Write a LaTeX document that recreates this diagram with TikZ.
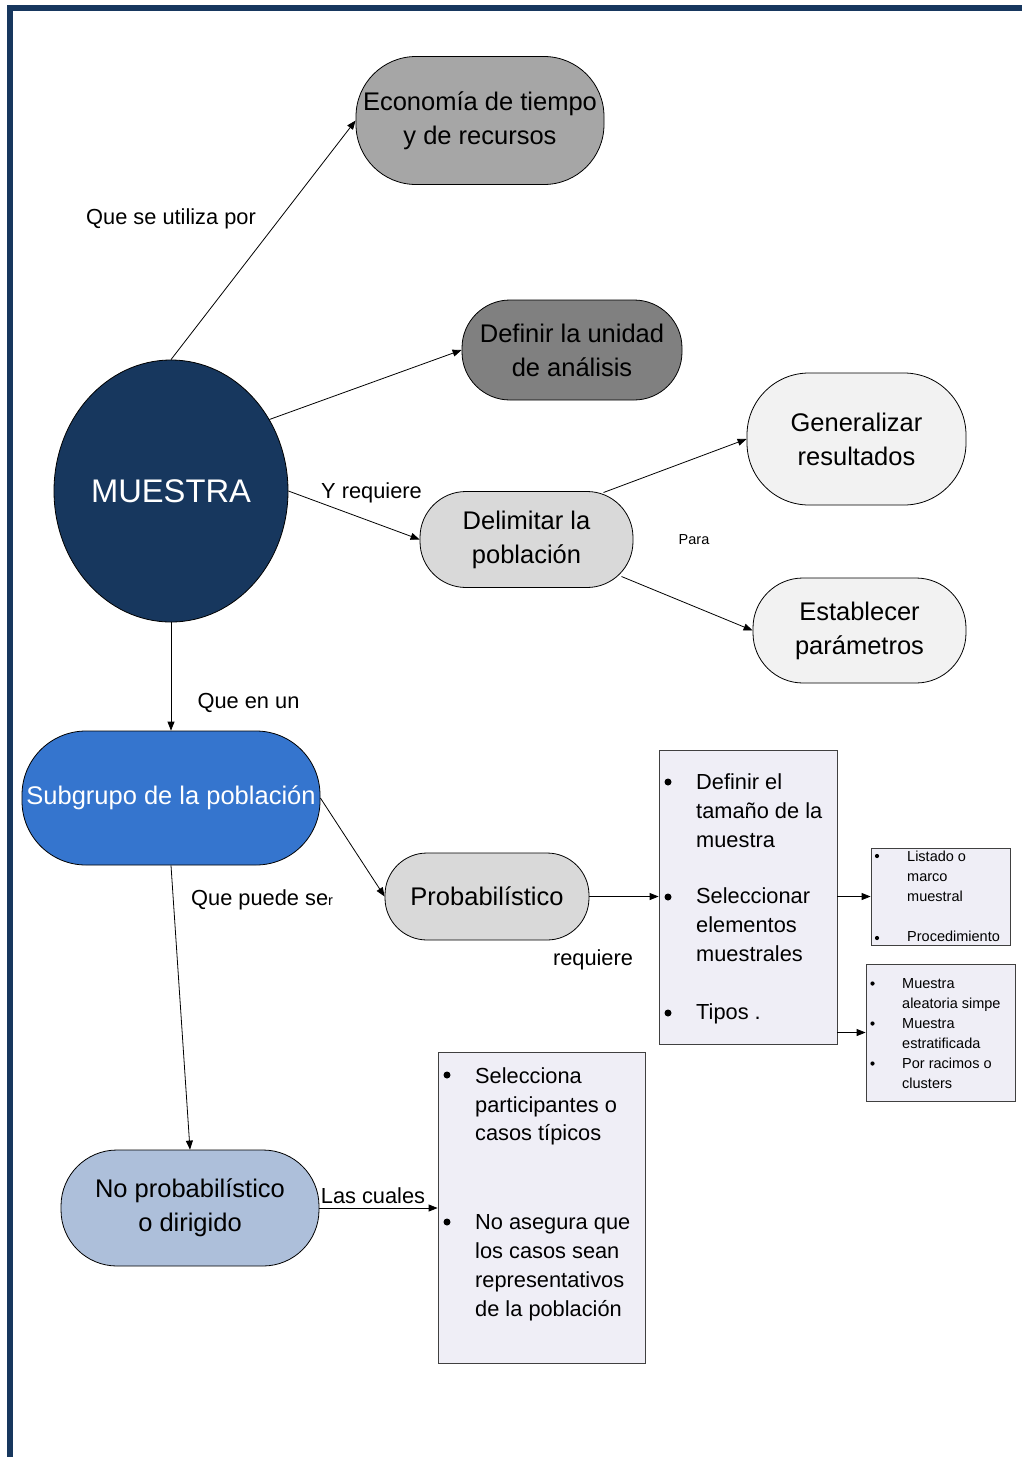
\documentclass[tikz,border=0pt]{standalone}
\usepackage{fontspec}
\setmainfont{Liberation Sans}
\usetikzlibrary{shapes.geometric,arrows.meta,calc}

\definecolor{navy}{HTML}{17375E}
\definecolor{grayA}{HTML}{A6A6A6}
\definecolor{grayB}{HTML}{808080}
\definecolor{grayC}{HTML}{D9D9D9}
\definecolor{grayD}{HTML}{F2F2F2}
\definecolor{blueS}{HTML}{3575CE}
\definecolor{blueL}{HTML}{ADBFDA}
\definecolor{boxfill}{HTML}{EFEEF6}
\definecolor{boxline}{HTML}{404040}

\tikzset{
  pill/.style={draw=black, line width=0.8pt, inner sep=0pt, align=center,
    font=\fontsize{25.5}{34}\selectfont},
  listbox/.style={draw=boxline, fill=boxfill, line width=0.8pt, inner sep=0pt},
  conn/.style={line width=0.8pt, -{Triangle[length=9pt,width=7pt]}},
  lbl/.style={font=\fontsize{21.8}{26}\selectfont, inner sep=0pt, anchor=mid},
  itm/.style={font=\fontsize{21.8}{26}\selectfont, inner sep=0pt, anchor=base west},
  bul/.style={circle, fill=black, inner sep=0pt, minimum size=7pt},
  smitm/.style={font=\fontsize{14.5}{18}\selectfont, inner sep=0pt, anchor=base west},
  smbul/.style={circle, fill=black, inner sep=0pt, minimum size=4.2pt},
}

\begin{document}
\begin{tikzpicture}[x=1pt,y=-1pt]
\useasboundingbox (0,0) rectangle (1022,1457);
\fill[white] (0,0) rectangle (1022,1457);

% page frame (top and left edges)
\draw[navy, line width=6pt, line join=miter] (9.5,1460) -- (9.5,8) -- (1025,8);

% concept nodes
\node[ellipse, draw=black, line width=0.8pt, fill=navy, text=white,
  minimum width=234pt, minimum height=262pt, inner sep=0pt,
  font=\fontsize{32.7}{38}\selectfont] (mue) at (171,491) {MUESTRA};

\node[pill, fill=grayA, minimum width=248pt, minimum height=128pt, rounded corners=60pt]
  (eco) at (480,120.5) {Economía de tiempo\\y de recursos};
\node[pill, fill=grayB, minimum width=220pt, minimum height=100pt, rounded corners=48pt]
  (def) at (572,350) {Definir la unidad\\de análisis};
\node[pill, fill=grayD, minimum width=219pt, minimum height=132pt, rounded corners=62pt]
  (gen) at (856.5,439) {Generalizar\\resultados};
\node[pill, fill=grayC, minimum width=213pt, minimum height=96pt, rounded corners=46pt]
  (del) at (526.5,539.5) {Delimitar la\\población};
\node[pill, fill=grayD, minimum width=213pt, minimum height=105pt, rounded corners=50pt]
  (est) at (859.5,630.5) {Establecer\\parámetros};
\node[pill, fill=blueS, text=white, minimum width=298pt, minimum height=134pt, rounded corners=64pt]
  (sub) at (171,798) {Subgrupo de la población};
\node[pill, fill=grayC, minimum width=204pt, minimum height=87pt, rounded corners=42pt]
  (pro) at (487,896.5) {Probabilístico};
\node[pill, fill=blueL, minimum width=258pt, minimum height=116pt, rounded corners=56pt]
  (nop) at (190,1208) {No probabilístico\\o dirigido};

% list boxes
\node[listbox, minimum width=178pt, minimum height=294pt] (b1) at (748,897) {};
\node[listbox, minimum width=139pt, minimum height=97pt] (b2) at (940.5,896.5) {};
\node[listbox, minimum width=149pt, minimum height=137pt] (b3) at (940.5,1032.5) {};
\node[listbox, minimum width=207pt, minimum height=311pt] (b4) at (541.5,1207.5) {};

% box 1 items
\node[bul] (b1p1) at (668,782) {};
\node[bul] (b1p2) at (668,897) {};
\node[bul] (b1p3) at (668,1013) {};
\node[itm] (b1t1) at (696,789) {Definir el};
\node[itm] (b1t2) at (696,818) {tamaño de la};
\node[itm] (b1t3) at (696,847) {muestra};
\node[itm] (b1t4) at (696,903) {Seleccionar};
\node[itm] (b1t5) at (696,932) {elementos};
\node[itm] (b1t6) at (696,961) {muestrales};
\node[itm] (b1t7) at (696,1019) {Tipos .};

% box 2 items
\node[smbul] (b2p1) at (877,856) {};
\node[smbul] (b2p2) at (877,938) {};
\node[smitm] (b2t1) at (907,861.5) {Listado o};
\node[smitm] (b2t2) at (907,881.5) {marco};
\node[smitm] (b2t3) at (907,901.5) {muestral};
\node[smitm] (b2t4) at (907,941.5) {Procedimiento};

% box 3 items
\node[smbul] (b3p1) at (872.5,983.5) {};
\node[smbul] (b3p2) at (872.5,1023.5) {};
\node[smbul] (b3p3) at (872.5,1063.5) {};
\node[smitm] (b3t1) at (902,988) {Muestra};
\node[smitm] (b3t2) at (902,1008) {aleatoria simpe};
\node[smitm] (b3t3) at (902,1028) {Muestra};
\node[smitm] (b3t4) at (902,1048) {estratificada};
\node[smitm] (b3t5) at (902,1068) {Por racimos o};
\node[smitm] (b3t6) at (902,1088) {clusters};

% box 4 items
\node[bul] (b4p1) at (447,1075) {};
\node[bul] (b4p2) at (447,1222) {};
\node[itm] (b4t1) at (475,1083) {Selecciona};
\node[itm] (b4t2) at (475,1112) {participantes o};
\node[itm] (b4t3) at (475,1140) {casos típicos};
\node[itm] (b4t4) at (475,1229) {No asegura que};
\node[itm] (b4t5) at (475,1258) {los casos sean};
\node[itm] (b4t6) at (475,1287) {representativos};
\node[itm] (b4t7) at (475,1316) {de la población};

% connectors
\draw[conn] (mue.north) -- (eco.west);
\draw[conn] (mue.36) -- (def.west);
\draw[conn] (mue.east) -- (del.west);
\draw[conn] ($(del.center)+(77,-47)$) -- (gen.west);
\draw[conn] ($(del.center)+(95,37)$) -- (est.west);
\draw[conn] (mue.south) -- (sub.north);
\draw[conn] (sub.east) -- (pro.west);
\draw[conn] (sub.south) -- (nop.north);
\draw[conn] (pro.east) -- (pro.east -| b1.west);
\draw[conn] (b1.east |- b2.west) -- (b2.west);
\draw[conn] (b1.east |- b3.west) -- (b3.west);
\draw[conn] (nop.east) -- (nop.east -| b4.west);

% connector labels
\node[lbl] (l1) at (171,222) {Que se utiliza por};
\node[lbl] (l2) at (371.5,496) {Y requiere};
\node[font=\fontsize{14.5}{18}\selectfont, inner sep=0pt, anchor=mid] (l3) at (694,542) {Para};
\node[lbl] (l4) at (248.5,706) {Que en un};
\node[font=\fontsize{21.8}{26}\selectfont, inner sep=0pt, anchor=mid west] (l5) at (191,903) {Que puede se{\fontsize{14.5}{18}\selectfont r}};
\node[lbl] (l6) at (593,963) {requiere};
\node[lbl] (l7) at (373,1201) {Las cuales};
\end{tikzpicture}
\end{document}
